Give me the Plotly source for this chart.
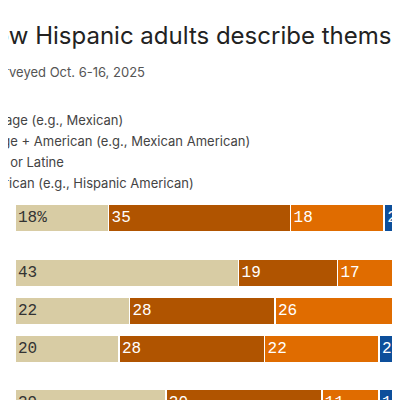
import plotly.graph_objects as go

rows = ["All Hispanics", "Group A", "Group B", "Group C", "Group D"]
row_pos = [218, 273, 311, 349, 403]
series_names = ["Heritage (e.g., Mexican)", "Heritage + American (e.g., Mexican American)",
                "Hispanic, Latino, Latinx or Latine", "Pan-ethnic + American (e.g., Hispanic American)"]
heritage = [18, 43, 22, 20, 29]
heritage_american = [35, 19, 28, 28, 30]
panethnic = [18, 17, 26, 22, 11]
panethnic_american = [20, 10, 10, 20, 15]
colors = ["#d8cca4", "#b05400", "#e06c00", "#0d4f9b"]
text_colors = ["#333333", "white", "white", "white"]

OFF = 8  # page offset in the browser
fig = go.Figure()
for name, vals, c, tc in zip(series_names, [heritage, heritage_american, panethnic, panethnic_american], colors, text_colors):
    labels = [f"{v}%" if i == 0 and name == series_names[0] else str(v) for i, v in enumerate(vals)]
    fig.add_bar(y=row_pos, x=vals, orientation="h", name=name, marker=dict(color=c, line=dict(color="white", width=1.5)),
                width=27, text=labels, textposition="inside", insidetextanchor="start",
                textfont=dict(family="Liberation Mono", size=16, color=tc), showlegend=False)

L = 15 - OFF
W = 400 - L
fig.update_layout(
    barmode="stack", width=400, height=400, margin=dict(l=L, r=0, t=0, b=0),
    plot_bgcolor="white", paper_bgcolor="white",
    xaxis=dict(range=[0, W / 5.2], visible=False), yaxis=dict(range=[400 + OFF, OFF], visible=False),
    uniformtext=dict(mode="show", minsize=8),
)
ann = [
    dict(text="How Hispanic adults describe themselves", x=-25, y=35, font=dict(size=24, color="#222")),
    dict(text="Among Hispanic adults surveyed Oct. 6-16, 2025", x=147, y=72, xanchor="right", font=dict(size=13, color="#555")),
    dict(text="Country of heritage (e.g., Mexican)", x=125, y=120, xanchor="right", font=dict(size=13, color="#444")),
    dict(text="Country of heritage + American (e.g., Mexican American)", x=252, y=141, xanchor="right", font=dict(size=13, color="#444")),
    dict(text="Hispanic, Latino, Latinx or Latine", x=66, y=162, xanchor="right", font=dict(size=13, color="#444")),
    dict(text="Pan-ethnic + American (e.g., Hispanic American)", x=196, y=183, xanchor="right", font=dict(size=13, color="#444")),
    dict(text="All Hispanics", x=9, y=218, xanchor="right", font=dict(size=13, color="#333")),
]
for a in ann:
    a.setdefault("xanchor", "left")
    a["font"]["family"] = "Inter"
    px, py = a.pop("x") - OFF, a.pop("y") - OFF
    fig.add_annotation(xref="paper", yref="paper", showarrow=False, yanchor="middle",
                       x=(px - L) / W, y=1 - py / 400, **a)
fig.write_html("out.html")
